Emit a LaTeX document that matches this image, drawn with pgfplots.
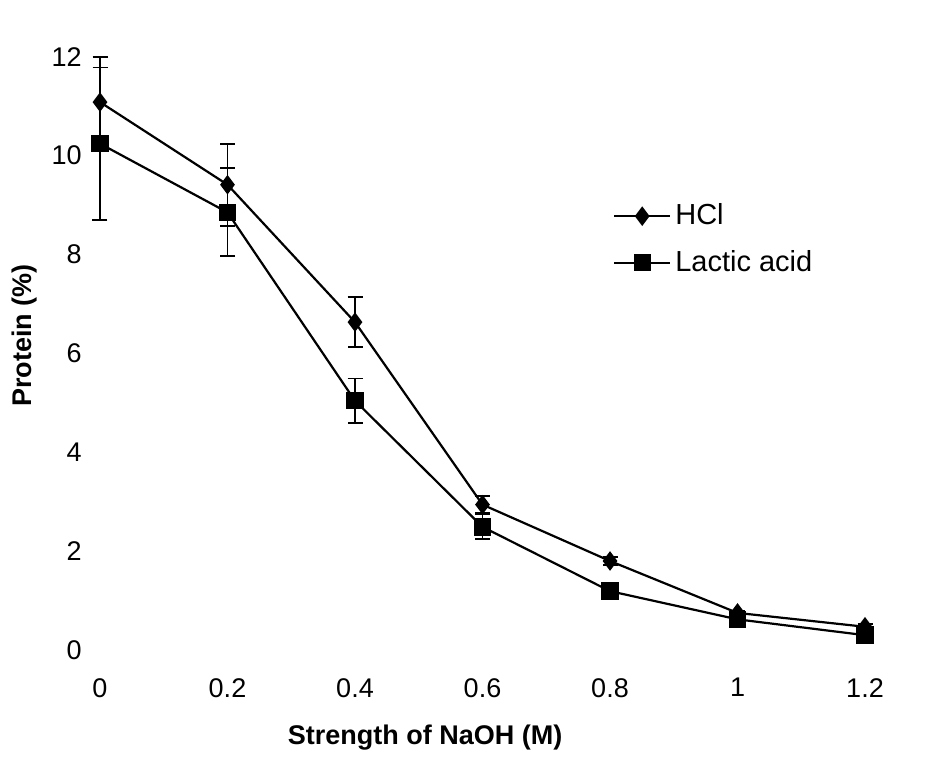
\documentclass[border=0pt]{standalone}
\usepackage{fontspec}
\setmainfont{Liberation Sans}
\usepackage{pgfplots}
\pgfplotsset{compat=1.18}
\begin{document}
\fontsize{12}{14}\selectfont
\begin{tikzpicture}
\useasboundingbox (-50pt,-53.5pt) rectangle (417.5pt,325pt);
\begin{axis}[
  at={(0,0)}, anchor=south west,
  scale only axis,
  width=382.5pt, height=296.7pt,
  xmin=0, xmax=1.2, ymin=0, ymax=12,
  clip=false,
  axis line style={draw=none},
  tick style={draw=none},
  /pgf/number format/assume math mode=true,
  ticklabel style={font=\fontsize{13.5}{15}\selectfont},
  xtick={0,0.2,0.4,0.6,0.8,1,1.2},
  xticklabels={0,0.2,0.4,0.6,0.8,1,1.2},
  ytick={0,2,4,6,8,10,12},
  xticklabel shift=10pt,
  yticklabel shift=5pt,
  xlabel={\bfseries Strength of NaOH (M)},
  ylabel={\bfseries Protein (\%)},
  x label style={at={(axis description cs:0.425,-0.147)}, anchor=center, font=\fontsize{13.5}{15}\selectfont},
  y label style={at={(axis description cs:-0.099,0.53)}, anchor=center, font=\fontsize{13.5}{15}\selectfont},
  legend style={at={(rel axis cs:0.665,0.766)}, anchor=north west, draw=none, fill=none,
    font=\fontsize{14.5}{16}\selectfont, row sep=7pt, inner sep=2pt},
  legend cell align=left,
  legend image code/.code={\draw[mark repeat=2,mark phase=2,#1] plot coordinates {(0pt,0pt) (14pt,0pt) (28pt,0pt)};},
  error bars/error bar style={line width=0.9pt, black},
  error bars/error mark options={rotate=90, mark size=3.75pt, line width=0.9pt, black},
]
\addplot[black, line width=1.1pt, mark=diamond*, mark size=4pt, mark options={fill=black, solid},
  error bars/.cd, y dir=both, y explicit]
  coordinates {
  (0,11.08) +- (0,0.92)
  (0.2,9.41) +- (0,0.83)
  (0.4,6.63) +- (0,0.51)
  (0.6,2.94) +- (0,0.17)
  (0.8,1.80) +- (0,0.08)
  (1,0.75) +- (0,0.05)
  (1.2,0.47) +- (0,0.05)
  };
\addlegendentry{HCl}
\addplot[black, line width=1.1pt, mark=square*, mark size=3.8pt, mark options={fill=black, solid},
  error bars/.cd, y dir=both, y explicit]
  coordinates {
  (0,10.24) +- (0,1.54)
  (0.2,8.85) +- (0,0.89)
  (0.4,5.04) +- (0,0.45)
  (0.6,2.49) +- (0,0.25)
  (0.8,1.19) +- (0,0.05)
  (1,0.62) +- (0,0.05)
  (1.2,0.30) +- (0,0.05)
  };
\addlegendentry{Lactic acid}
\end{axis}
\end{tikzpicture}
\end{document}
